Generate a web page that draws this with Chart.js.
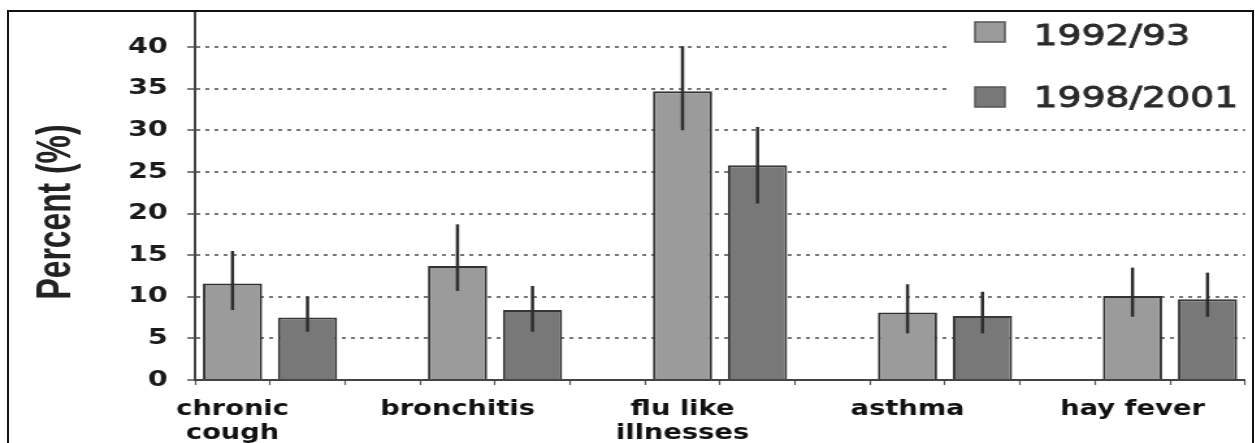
<!DOCTYPE html>
<html>
<head>
<meta charset="utf-8">
<title>Respiratory symptoms 1992/93 and 1998/2001</title>
<script src="https://cdn.jsdelivr.net/npm/chart.js@4.4.1/dist/chart.umd.min.js"></script>
<style>
  html, body { margin: 0; padding: 0; background: #fff; }
  body { width: 1255px; height: 443px; position: relative; overflow: hidden; }
  #frame {
    position: absolute; left: 7px; top: 10px; width: 1247px; height: 460px;
    box-sizing: border-box; border: 2px solid #111; overflow: hidden; background: #fff;
  }
  /* chart is laid out narrow and widened, like the original pasted figure */
  #wrap {
    position: absolute; left: -9px; top: -39px; width: 965px; height: 470px;
    transform: scaleX(1.3); transform-origin: 0 0;
  }
</style>
</head>
<body>
<div id="frame"><div id="wrap"><canvas id="symptomChart"></canvas></div></div>
<script>
const categories = [['chronic', 'cough'], 'bronchitis', ['flu like', 'illnesses'], 'asthma', 'hay fever'];
const seriesNames = ['1992/93', '1998/2001'];
const percent1992 = [11.6, 13.7, 34.7, 8.1, 10.1];
const percent1998 = [7.5, 8.4, 25.8, 7.7, 9.7];
// error bar ends
const low1992 = [8.4, 10.7, 30.0, 5.6, 7.6];
const high1992 = [15.5, 18.7, 40.1, 11.5, 13.5];
const low1998 = [5.8, 5.8, 21.2, 5.6, 7.6];
const high1998 = [10.0, 11.3, 30.4, 10.6, 12.9];
const yMin = 0, yMax = 45, yStep = 5;
const yTitle = 'Percent (%)';

// every category gets two bar slots and an empty gap slot (none after the last)
const slotLabels = [];
const slots1992 = [];
const slots1998 = [];
categories.forEach((cat, i) => {
    slotLabels.push(cat, '');
    slots1992.push(percent1992[i], null);
    slots1998.push(null, percent1998[i]);
    if (i < categories.length - 1) {
        slotLabels.push('');
        slots1992.push(null);
        slots1998.push(null);
    }
});

const errorBars = {
    id: 'errorBars',
    afterDatasetsDraw(chart) {
        const ctx = chart.ctx;
        const y = chart.scales.y;
        ctx.save();
        ctx.strokeStyle = '#2e2e2e';
        ctx.lineWidth = 2.5;
        chart.data.datasets.forEach((ds, d) => {
            const meta = chart.getDatasetMeta(d);
            let k = 0;
            ds.data.forEach((v, j) => {
                if (v === null) return;
                const bar = meta.data[j];
                ctx.beginPath();
                ctx.moveTo(bar.x, y.getPixelForValue(ds.errLow[k]));
                ctx.lineTo(bar.x, y.getPixelForValue(ds.errHigh[k]));
                ctx.stroke();
                k++;
            });
        });
        ctx.restore();
    }
};

// legend sits in its own white box over the top right of the plot
const boxLegend = {
    id: 'boxLegend',
    afterDraw(chart) {
        const ctx = chart.ctx;
        const rows = [{ sy: 49, ty: 64.5 }, { sy: 114, ty: 126 }];
        ctx.save();
        ctx.fillStyle = '#fff';
        ctx.fillRect(731, 0, chart.width - 731, 139);
        chart.data.datasets.forEach((ds, i) => {
            const r = rows[i];
            ctx.fillStyle = ds.backgroundColor;
            ctx.fillRect(750, r.sy, 23, 20);
            ctx.strokeStyle = '#555';
            ctx.lineWidth = 1.5;
            ctx.strokeRect(750, r.sy, 23, 20);
            ctx.fillStyle = '#2a2a2a';
            ctx.strokeStyle = '#2a2a2a';
            ctx.lineWidth = 0.9;
            ctx.font = '29px "DejaVu Sans"';
            ctx.textAlign = 'left';
            ctx.textBaseline = 'middle';
            ctx.fillText(ds.label, 795, r.ty);
            ctx.strokeText(ds.label, 795, r.ty);
        });
        ctx.restore();
    }
};

const axisTitle = {
    id: 'axisTitle',
    afterDraw(chart) {
        const ctx = chart.ctx;
        ctx.save();
        ctx.translate(43.5, 239);
        ctx.rotate(-Math.PI / 2);
        ctx.font = 'bold 37px "Liberation Sans"';
        ctx.fillStyle = '#222';
        ctx.textAlign = 'center';
        ctx.textBaseline = 'middle';
        ctx.fillText(yTitle, 0, 0, 175);
        ctx.restore();
    }
};

const tickFont = { family: 'DejaVu Sans', weight: 'bold', size: 22 };

new Chart(document.getElementById('symptomChart'), {
    type: 'bar',
    data: {
        labels: slotLabels,
        datasets: [{
            label: seriesNames[0],
            data: slots1992,
            errLow: low1992,
            errHigh: high1992,
            backgroundColor: '#9b9b9b',
            borderColor: '#333',
            borderWidth: 2
        }, {
            label: seriesNames[1],
            data: slots1998,
            errLow: low1998,
            errHigh: high1998,
            backgroundColor: '#787878',
            borderColor: '#383838',
            borderWidth: 2
        }]
    },
    options: {
        responsive: true,
        maintainAspectRatio: false,
        animation: false,
        events: [],
        layout: { padding: { left: 0, right: 7.3, top: 32.4, bottom: 0 } },
        datasets: {
            bar: { grouped: false, barPercentage: 0.79, categoryPercentage: 1 }
        },
        plugins: {
            legend: { display: false },
            tooltip: { enabled: false }
        },
        scales: {
            x: {
                offset: true,
                grid: {
                    offset: true,
                    drawOnChartArea: false,
                    tickLength: 5,
                    tickColor: '#555',
                    tickWidth: 1.2
                },
                border: { color: '#444', width: 2 },
                ticks: {
                    autoSkip: false,
                    maxRotation: 0,
                    padding: 12,
                    color: '#111',
                    font: { ...tickFont, size: 21, lineHeight: 1.17 }
                },
                afterFit(scale) { scale.height = 63; }
            },
            y: {
                min: yMin,
                max: yMax,
                grid: {
                    color: '#777',
                    lineWidth: 2,
                    tickLength: 6,
                    tickColor: '#555',
                    tickWidth: 1.5
                },
                border: { color: '#444', width: 2, dash: [3, 4] },
                ticks: {
                    stepSize: yStep,
                    padding: 15,
                    color: '#1a1a1a',
                    font: tickFont
                },
                afterFit(scale) { scale.width = 150; }
            }
        }
    },
    plugins: [errorBars, boxLegend, axisTitle]
});
</script>
</body>
</html>
